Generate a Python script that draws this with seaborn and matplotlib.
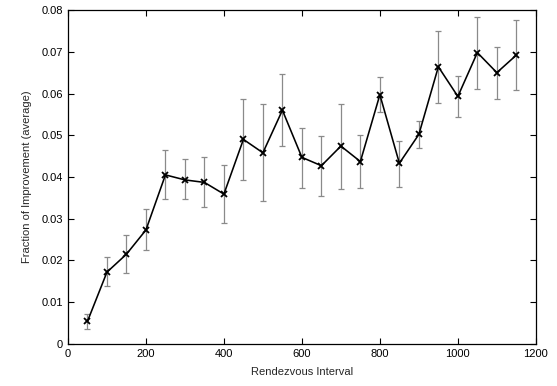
import numpy as np
import pandas as pd
import matplotlib
matplotlib.use("Agg")
import matplotlib.pyplot as plt
import seaborn as sns

sns.set_style("ticks")
plt.rcParams['font.family'] = ['Liberation Sans', 'DejaVu Sans']

interval = [50, 100, 150, 200, 250, 300, 350, 400, 450, 500, 550, 600,
            650, 700, 750, 800, 850, 900, 950, 1000, 1050, 1100, 1150]
improvement = [0.0054, 0.0172, 0.0215, 0.0273, 0.0405, 0.0393, 0.0387, 0.0359,
               0.0490, 0.0458, 0.0560, 0.0447, 0.0427, 0.0474, 0.0437, 0.0597,
               0.0433, 0.0502, 0.0664, 0.0593, 0.0698, 0.0650, 0.0692]
err_hi = [0.0071, 0.0208, 0.0260, 0.0323, 0.0464, 0.0442, 0.0448, 0.0429,
          0.0587, 0.0574, 0.0647, 0.0518, 0.0498, 0.0574, 0.0500, 0.0639,
          0.0487, 0.0533, 0.0749, 0.0641, 0.0784, 0.0711, 0.0777]
err_lo = [0.0036, 0.0139, 0.0169, 0.0224, 0.0347, 0.0347, 0.0327, 0.0290,
          0.0392, 0.0342, 0.0474, 0.0373, 0.0354, 0.0371, 0.0373, 0.0555,
          0.0376, 0.0470, 0.0577, 0.0544, 0.0611, 0.0588, 0.0608]

df = pd.DataFrame({"x": interval, "y": improvement, "hi": err_hi, "lo": err_lo})

fig = plt.figure(figsize=(5.57, 3.86), dpi=100)
ax = fig.add_axes([0.122, 0.109, 0.840, 0.865])

ax.errorbar(df["x"], df["y"],
            yerr=[df["y"] - df["lo"], df["hi"] - df["y"]],
            fmt="none", ecolor="#8a8a8a", elinewidth=0.9, capsize=2, capthick=0.9, zorder=1)
sns.lineplot(data=df, x="x", y="y", ax=ax, color="black", linewidth=1.15,
             marker="x", markersize=4, markeredgewidth=1.3, markeredgecolor="black", zorder=2)

ax.set_xlim(0, 1200)
ax.set_ylim(0, 0.08)
ax.set_xticks(range(0, 1201, 200))
ax.set_yticks(np.arange(0, 0.081, 0.01))
ax.set_yticklabels(["0", "0.01", "0.02", "0.03", "0.04", "0.05", "0.06", "0.07", "0.08"])
ax.tick_params(direction="in", top=True, right=True, length=4, width=0.8, labelsize=8, colors="black")
for s in ax.spines.values():
    s.set_linewidth(0.9)
    s.set_color("black")
ax.set_xlabel("Rendezvous Interval", fontsize=8, labelpad=6)
ax.set_ylabel("Fraction of Improvement (average)", fontsize=8, labelpad=7)

fig.savefig("out.png", dpi=100)
